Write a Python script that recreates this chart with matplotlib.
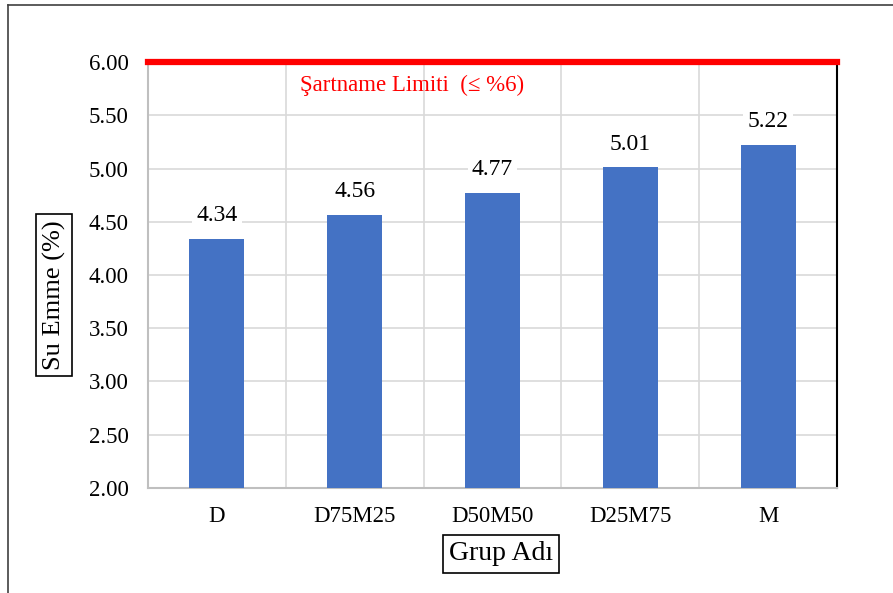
import numpy as np
import matplotlib.pyplot as plt
from matplotlib.lines import Line2D

plt.rcParams['font.family'] = ['Liberation Serif', 'DejaVu Serif']

groups = ['D', 'D75M25', 'D50M50', 'D25M75', 'M']
su_emme = [4.34, 4.56, 4.77, 5.01, 5.22]
limit = 6.0
y_ticks = [2.0, 2.5, 3.0, 3.5, 4.0, 4.5, 5.0, 5.5, 6.0]

fig = plt.figure(figsize=(8.93, 5.93), dpi=100)
ax = fig.add_axes([0.1657, 0.1771, 0.9373 - 0.1657, 0.8954 - 0.1771])

x = np.arange(len(groups))
ax.bar(x, su_emme, width=0.4, color='#4472c4', zorder=3)

for xi, v in zip(x, su_emme):
    ax.text(xi, v + 0.22, f'{v:.2f}', ha='center', va='center', fontsize=17,
            bbox=dict(facecolor='white', edgecolor='none', pad=3), zorder=4)

# specification limit
ax.axhline(limit, color='#ff0000', lw=4.5, zorder=5, clip_on=False)
ax.text(1.42, 5.78, 'Şartname Limiti  (≤ %6)', color='#ff0000', ha='center',
        va='center', fontsize=16.5, family=['Liberation Serif', 'DejaVu Serif'])

ax.set_xlim(-0.5, len(groups) - 0.5)
ax.set_ylim(2.0, 6.0)
ax.set_yticks(y_ticks)
ax.set_yticklabels([f'{t:.2f}' for t in y_ticks], fontsize=16.5)
ax.set_xticks(x)
ax.set_xticklabels(groups, fontsize=16.5)
ax.tick_params(axis='y', length=0, pad=14)
ax.tick_params(axis='x', length=0, pad=13)

ax.set_xticks(np.arange(len(groups) + 1) - 0.5, minor=True)
ax.grid(True, axis='y', color='#d9d9d9', lw=1.2, zorder=0)
ax.grid(True, axis='x', which='minor', color='#d9d9d9', lw=1.2, zorder=0)
ax.tick_params(which='minor', length=0)

for side in ['left', 'bottom']:
    ax.spines[side].set_color('#bfbfbf')
    ax.spines[side].set_linewidth(1.5)
ax.spines['top'].set_visible(False)
ax.spines['right'].set_color('black')
ax.spines['right'].set_linewidth(1.5)

fig.text(54 / 893, 1 - 295 / 593, 'Su Emme (%)', rotation=90, ha='center', va='center',
         fontsize=19, bbox=dict(facecolor='white', edgecolor='black', lw=1.2, pad=4.5))
fig.text(501 / 893, 1 - 554 / 593, 'Grup Adı', ha='center', va='center', fontsize=20,
         bbox=dict(facecolor='white', edgecolor='black', lw=1.2, pad=4.5))

# outer frame (top and left edges)
fig.add_artist(Line2D([8 / 893, 1], [1 - 5 / 593, 1 - 5 / 593], color='#404040', lw=1.2))
fig.add_artist(Line2D([8 / 893, 8 / 893], [0, 1 - 5 / 593], color='#404040', lw=1.2))

fig.savefig('out.png', dpi=100)
